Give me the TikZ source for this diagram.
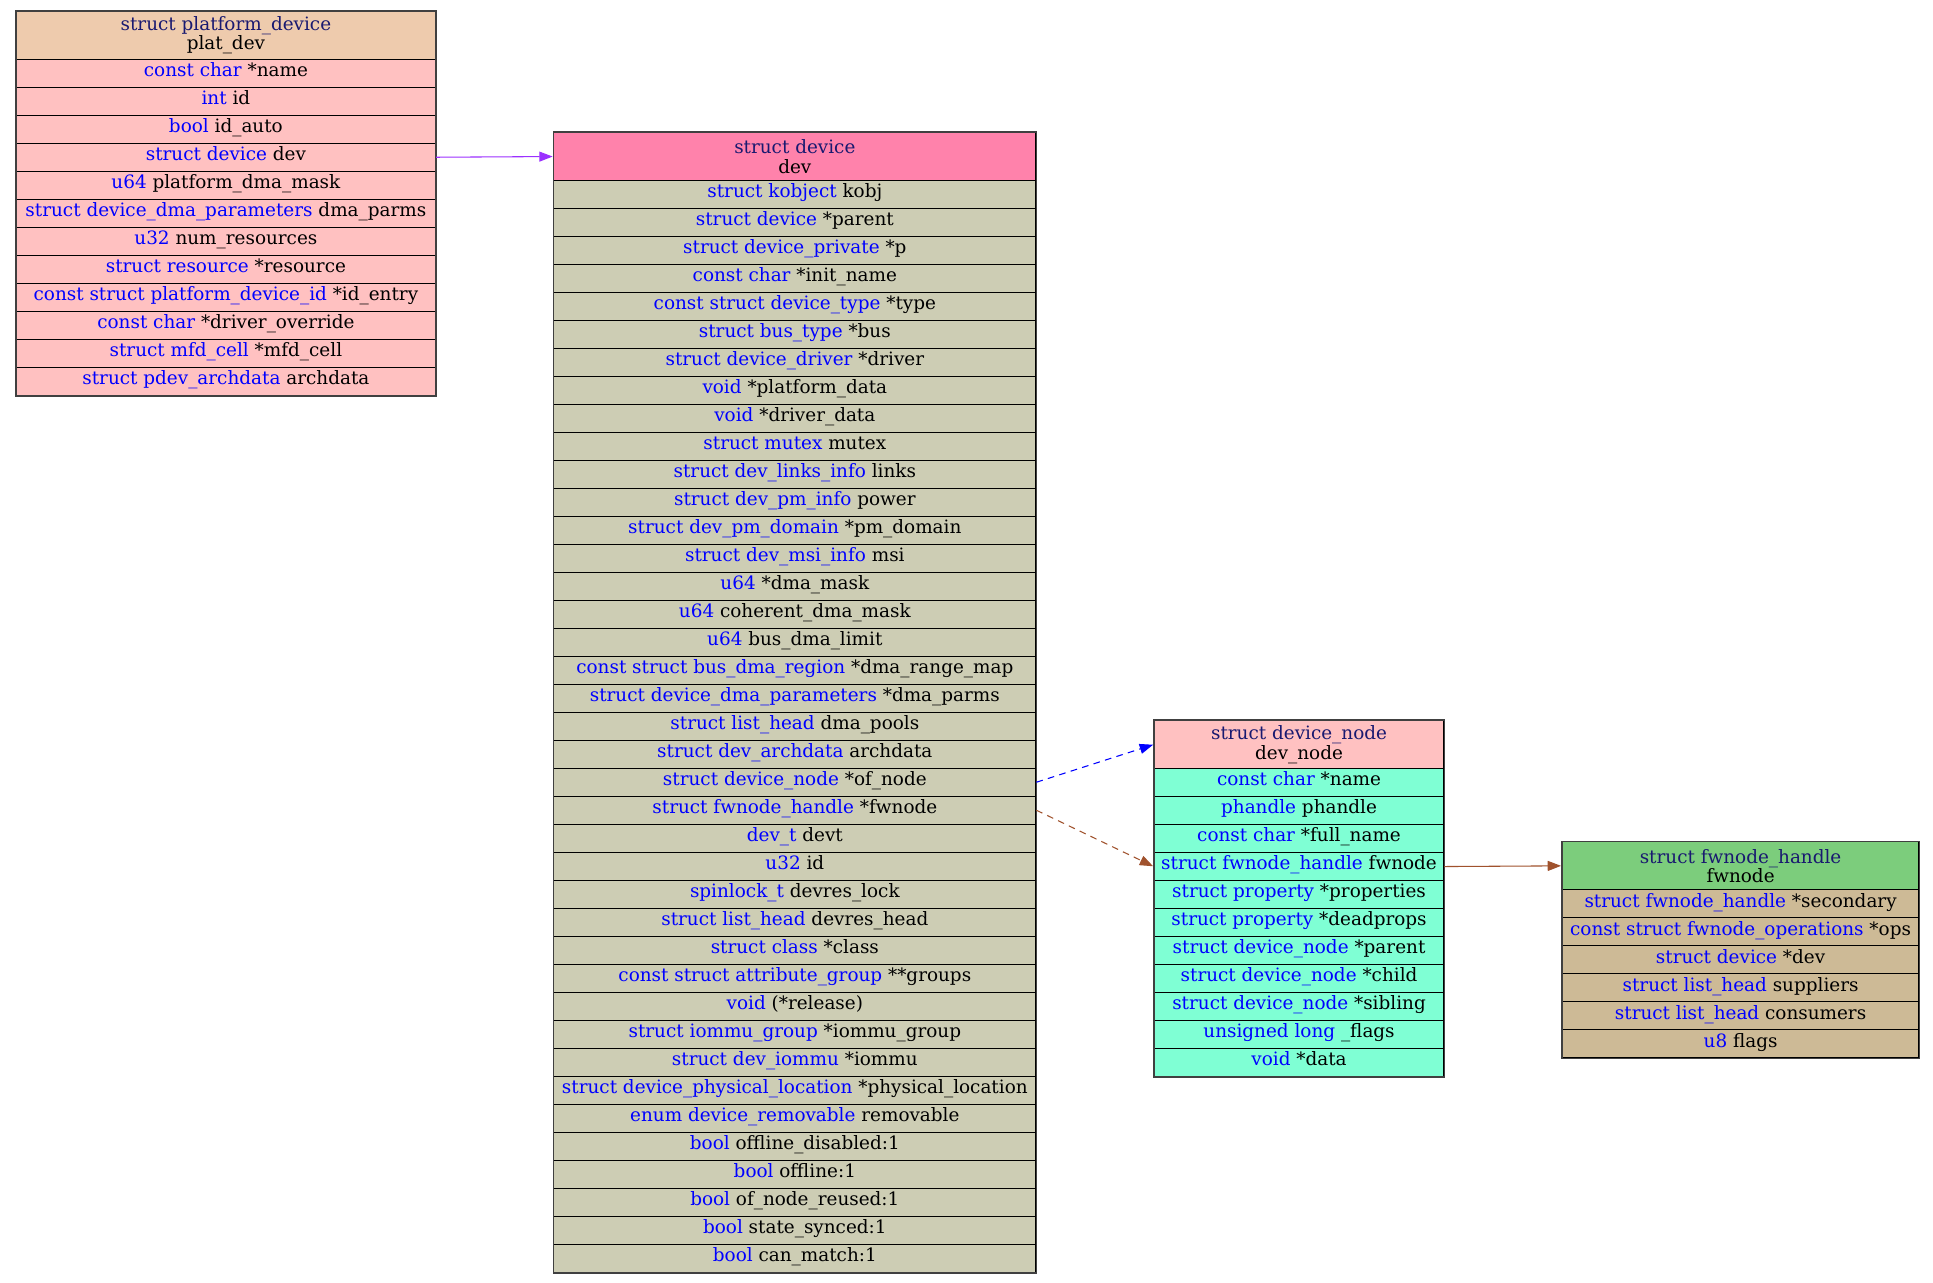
\documentclass[tikz,border=0pt]{standalone}
\usepackage{fontspec}
\setmainfont{DejaVu Serif}
\usetikzlibrary{arrows.meta,positioning}

\definecolor{typeblue}{HTML}{0000FF}
\definecolor{headblue}{HTML}{191970}
\definecolor{frameGray}{HTML}{404040}
\definecolor{purpleOne}{HTML}{9B30FF}
\definecolor{sienna}{HTML}{A0522D}
\definecolor{platHead}{HTML}{EECBAD}
\definecolor{pinkRow}{HTML}{FFC1C1}
\definecolor{devHead}{HTML}{FF82AB}
\definecolor{devRow}{HTML}{CDCDB4}
\definecolor{aquaRow}{HTML}{7FFFD4}
\definecolor{fwHead}{HTML}{7CCD7C}
\definecolor{fwRow}{HTML}{CDBA96}

\newcommand\fieldfont{\fontsize{13.8pt}{14.5pt}\selectfont}

\begin{document}
\begin{tikzpicture}[x=0.75pt,y=-0.75pt,
    cell/.style={draw=black, line width=0.8pt, inner sep=0pt,
      anchor=north west, font=\fieldfont},
    field/.style={cell, minimum height=21pt, text height=9pt, text depth=4pt},
    head/.style={cell, minimum height=36pt, align=center},
    frame/.style={draw=frameGray, line width=1.2pt},
    ptr/.style={-{Triangle[length=10pt,width=7.5pt]}, line width=0.8pt,
      shorten >=0.5pt},
    weak/.style={dash pattern=on 5pt off 4pt}]
  \useasboundingbox (0,0) rectangle (1933,1282);

  % struct platform_device
  \node[head, fill=platHead, minimum width=314.5pt] (plat_dev) at (15.7,10.7)
    {{\color{headblue}struct platform\_device}\\plat\_dev};
  \foreach \ty/\nm [count=\i] in {const char/*name, int/id, bool/id\_auto,
      struct device/dev, u64/platform\_dma\_mask,
      struct device\_dma\_parameters/dma\_parms, u32/num\_resources,
      struct resource/*resource, const struct platform\_device\_id/*id\_entry,
      const char/*driver\_override, struct mfd\_cell/*mfd\_cell,
      struct pdev\_archdata/archdata}
    \node[field, fill=pinkRow, minimum width=314.5pt] (plat_dev-\i)
      at ({15.7},{30.7+28*\i}) {\color{typeblue}\ty{} \color{black}\nm};
  \draw[frame] (plat_dev.north west) rectangle (plat_dev-12.south east);

  % struct device
  \node[head, fill=devHead, minimum width=361.5pt] (dev) at (553.3,132)
    {{\color{headblue}struct device}\\dev};
  \foreach \ty/\nm [count=\i] in {struct kobject/kobj, struct device/*parent,
      struct device\_private/*p, const char/*init\_name,
      const struct device\_type/*type, struct bus\_type/*bus,
      struct device\_driver/*driver, void/*platform\_data, void/*driver\_data,
      struct mutex/mutex, struct dev\_links\_info/links,
      struct dev\_pm\_info/power, struct dev\_pm\_domain/*pm\_domain,
      struct dev\_msi\_info/msi, u64/*dma\_mask, u64/coherent\_dma\_mask,
      u64/bus\_dma\_limit, const struct bus\_dma\_region/*dma\_range\_map,
      struct device\_dma\_parameters/*dma\_parms, struct list\_head/dma\_pools,
      struct dev\_archdata/archdata, struct device\_node/*of\_node,
      struct fwnode\_handle/*fwnode, dev\_t/devt, u32/id,
      spinlock\_t/devres\_lock, struct list\_head/devres\_head,
      struct class/*class, const struct attribute\_group/**groups,
      void/(*release), struct iommu\_group/*iommu\_group,
      struct dev\_iommu/*iommu,
      struct device\_physical\_location/*physical\_location,
      enum device\_removable/removable, bool/offline\_disabled:1,
      bool/offline:1, bool/of\_node\_reused:1, bool/state\_synced:1,
      bool/can\_match:1}
    \node[field, fill=devRow, minimum width=361.5pt] (dev-\i)
      at ({553.3},{151.7+28*\i}) {\color{typeblue}\ty{} \color{black}\nm};
  \draw[frame] (dev.north west) rectangle (dev-39.south east);

  % struct device_node
  \node[head, fill=pinkRow, minimum width=217.2pt] (dev_node) at (1153.7,720)
    {{\color{headblue}struct device\_node}\\dev\_node};
  \foreach \ty/\nm [count=\i] in {const char/*name, phandle/phandle,
      const char/*full\_name, struct fwnode\_handle/fwnode,
      struct property/*properties, struct property/*deadprops,
      struct device\_node/*parent, struct device\_node/*child,
      struct device\_node/*sibling, unsigned long/\_flags, void/*data}
    \node[field, fill=aquaRow, minimum width=217.2pt] (dev_node-\i)
      at ({1153.7},{740+28*\i}) {\color{typeblue}\ty{} \color{black}\nm};
  \draw[frame] (dev_node.north west) rectangle (dev_node-11.south east);

  % struct fwnode_handle
  \node[head, fill=fwHead, minimum width=267.5pt] (fwnode) at (1561.7,841.3)
    {{\color{headblue}struct fwnode\_handle}\\fwnode};
  \foreach \ty/\nm [count=\i] in {struct fwnode\_handle/*secondary,
      const struct fwnode\_operations/*ops, struct device/*dev,
      struct list\_head/suppliers, struct list\_head/consumers, u8/flags}
    \node[field, fill=fwRow, minimum width=267.5pt] (fwnode-\i)
      at ({1561.7},{861.3+28*\i}) {\color{typeblue}\ty{} \color{black}\nm};
  \draw[frame] (fwnode.north west) rectangle (fwnode-6.south east);

  % pointers
  \draw[ptr, purpleOne] (plat_dev-4.east) -- (dev.west);
  \draw[ptr, typeblue, weak] (dev-22.east) -- (dev_node.west);
  \draw[ptr, sienna, weak] (dev-23.east) -- (dev_node-4.west);
  \draw[ptr, sienna] (dev_node-4.east) -- (fwnode.west);
\end{tikzpicture}
\end{document}
